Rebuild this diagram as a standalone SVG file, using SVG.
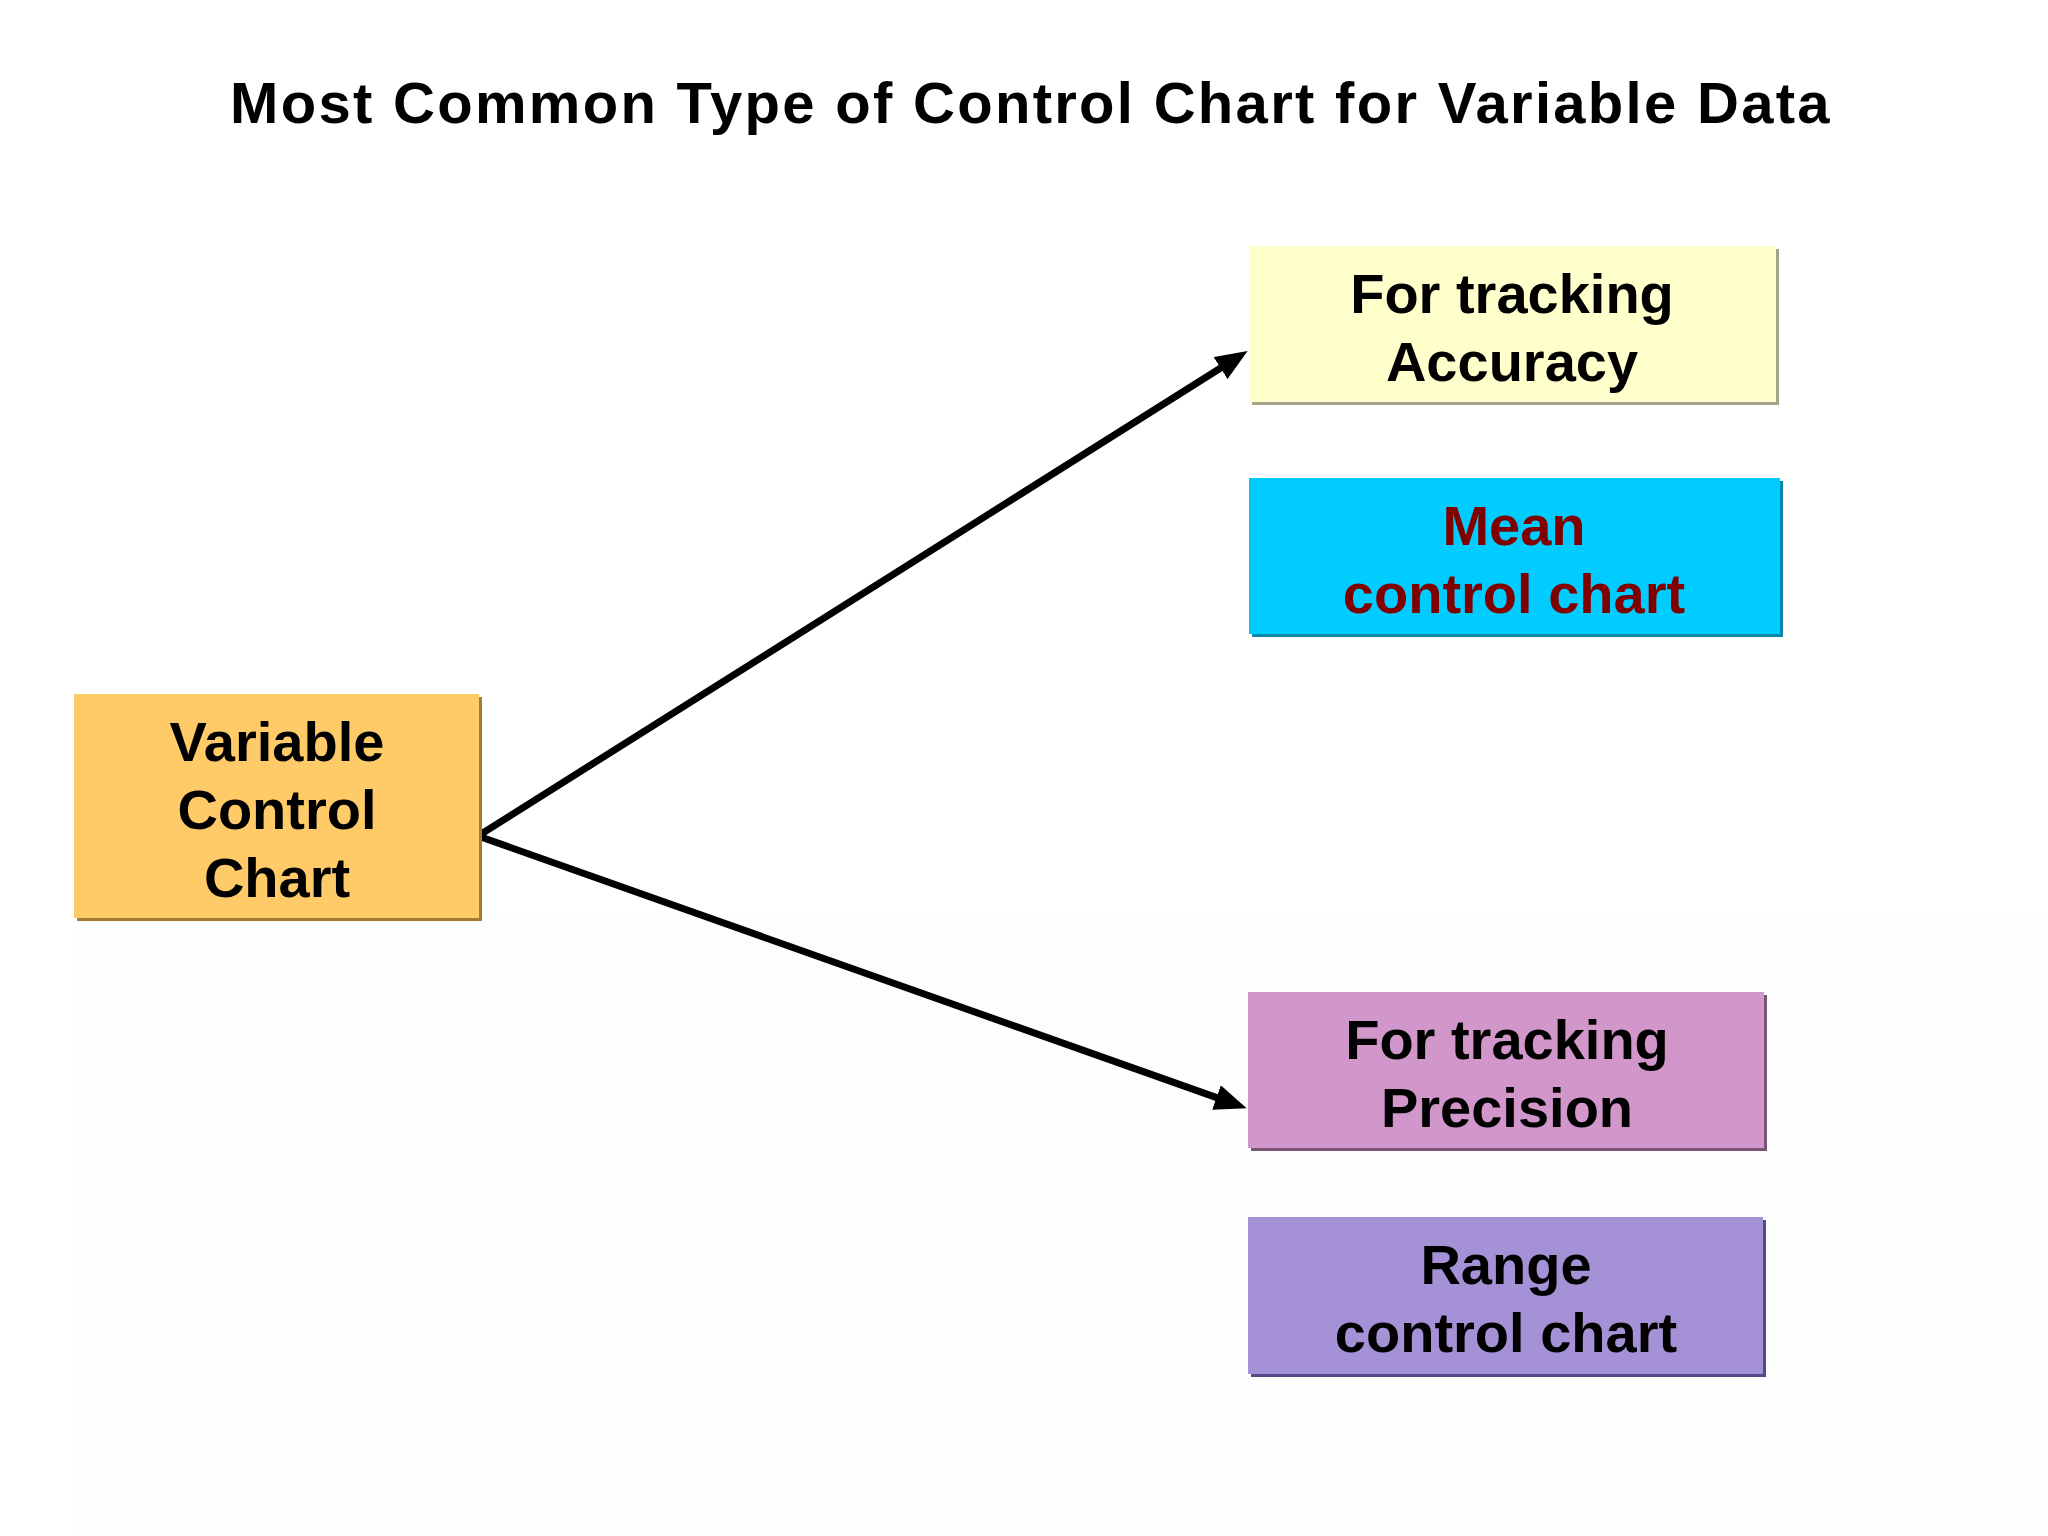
<svg xmlns="http://www.w3.org/2000/svg" width="2048" height="1536" viewBox="0 0 2048 1536">
  <style>
    .title { font-family: "Liberation Sans", Arial, sans-serif; font-weight: bold; font-size: 58px; letter-spacing: 2.3px; fill: #000000; }
    .lbl { font-family: "Liberation Sans", Arial, sans-serif; font-weight: bold; font-size: 56px; fill: #000000; text-anchor: middle; }
    .lbl-red { fill: #800000; }
    .conn { stroke: #000000; stroke-width: 7; fill: none; stroke-linecap: round; }
  </style>
  <defs>
    <marker id="arrow" markerUnits="userSpaceOnUse" viewBox="0 0 32 26" refX="10" refY="13" markerWidth="32" markerHeight="26" orient="auto">
      <path d="M0,0 L32,13 L0,26 Z" fill="#000000"/>
    </marker>
  </defs>

  <rect x="0" y="0" width="2048" height="1536" fill="#ffffff"/>
  <rect x="78" y="919" width="1970" height="617" fill="#fdfdfd"/>

  <text class="title" x="1031" y="123" text-anchor="middle">Most Common Type of Control Chart for Variable Data</text>

  <g id="connectors">
    <line class="conn" x1="478" y1="836" x2="1229" y2="362.8" marker-end="url(#arrow)"/>
    <line class="conn" x1="478" y1="836" x2="1225.9" y2="1100.9" marker-end="url(#arrow)"/>
  </g>

  <g id="node-variable">
    <rect x="77" y="697" width="405" height="224" fill="#a67c34"/>
    <rect x="74" y="694" width="405" height="224" fill="#ffcb69"/>
    <text class="lbl" x="277" y="761">Variable</text>
    <text class="lbl" x="277" y="829">Control</text>
    <text class="lbl" x="277" y="897">Chart</text>
  </g>

  <g id="node-accuracy">
    <rect x="1252" y="249" width="527" height="156" fill="#a3a38a"/>
    <rect x="1249" y="246" width="527" height="156" fill="#ffffcc"/>
    <text class="lbl" x="1512" y="313">For tracking</text>
    <text class="lbl" x="1512" y="381">Accuracy</text>
  </g>

  <g id="node-mean">
    <rect x="1252" y="481" width="531" height="156" fill="#0a89ab"/>
    <rect x="1249" y="478" width="531" height="156" fill="#00ccff"/>
    <text class="lbl lbl-red" x="1514" y="545">Mean</text>
    <text class="lbl lbl-red" x="1514" y="613">control chart</text>
  </g>

  <g id="node-precision">
    <rect x="1251" y="995" width="516" height="156" fill="#7a5477"/>
    <rect x="1248" y="992" width="516" height="156" fill="#d197ca"/>
    <text class="lbl" x="1507" y="1059">For tracking</text>
    <text class="lbl" x="1507" y="1127">Precision</text>
  </g>

  <g id="node-range">
    <rect x="1251" y="1220" width="515" height="157" fill="#574a86"/>
    <rect x="1248" y="1217" width="515" height="157" fill="#a592d6"/>
    <text class="lbl" x="1506" y="1284">Range</text>
    <text class="lbl" x="1506" y="1352">control chart</text>
  </g>
</svg>
